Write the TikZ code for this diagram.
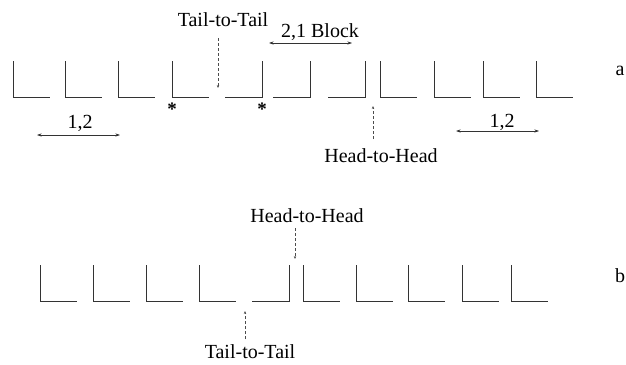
\documentclass[tikz,border=0pt]{standalone}
\usepackage{fontspec}
\setmainfont{Liberation Serif}
\usetikzlibrary{arrows.meta}
\begin{document}
\begin{tikzpicture}[x=1pt,y=-1pt,
  unit/.style={draw=black!80,line width=0.6pt},
  lbl/.style={inner sep=0pt,anchor=base,font=\fontsize{20}{24}\selectfont},
  star/.style={inner sep=0pt,font=\fontsize{19}{20}\selectfont\bfseries},
  leader/.style={draw=black!70,line width=0.45pt,densely dashed,-{Stealth[length=3pt,width=2.4pt]}},
  span/.style={draw=black!80,line width=0.6pt,{Stealth[length=4.5pt,width=3pt]}-{Stealth[length=4.5pt,width=3pt]}}]
\useasboundingbox (0,0) rectangle (626,364);

% ---- chain a ----
\foreach \x in {13,65,118,172,380,434,483,536}
  \draw[unit] (\x,61) -- (\x,97) -- ++(37,0);
\foreach \x in {262,310,365}
  \draw[unit] (\x,61) -- (\x,97) -- ++(-37,0);

\node[star] (s1) at (172,109) {*};
\node[star] (s2) at (262,109) {*};

\node[lbl] (tta) at (223,27) {Tail-to-Tail};
\coordinate (ttaend) at (218,88);
\draw[leader] (218,38) -- (ttaend);

\node[lbl] (blk) at (320,37) {2,1 Block};
\coordinate (blkL) at (269,43);
\coordinate (blkR) at (352,43);
\draw[span] (blkL) -- (blkR);

\node[lbl] (ol) at (80,128) {1,2};
\coordinate (olL) at (37,135);
\coordinate (olR) at (120,135);
\draw[span] (olL) -- (olR);

\node[lbl] (or) at (502,127) {1,2};
\coordinate (orL) at (456,131);
\coordinate (orR) at (539,131);
\draw[span] (orL) -- (orR);

\node[lbl] (hha) at (381,162) {Head-to-Head};
\coordinate (hhaend) at (373,106);
\draw[leader] (373,139) -- (hhaend);

\node[lbl] (la) at (620,75) {a};

% ---- chain b ----
\foreach \x in {40,93,146,199,303,356,408,462,511}
  \draw[unit] (\x,265) -- (\x,301) -- ++(37,0);
\draw[unit] (289,265) -- (289,301) -- ++(-37,0);

\node[lbl] (hhb) at (307,222) {Head-to-Head};
\coordinate (hhbend) at (295,259);
\draw[leader] (295,228) -- (hhbend);

\node[lbl] (ttb) at (250,358) {Tail-to-Tail};
\coordinate (ttbend) at (245,311);
\draw[leader] (245,339) -- (ttbend);

\node[lbl] (lb) at (620,282) {b};
\end{tikzpicture}
\end{document}
